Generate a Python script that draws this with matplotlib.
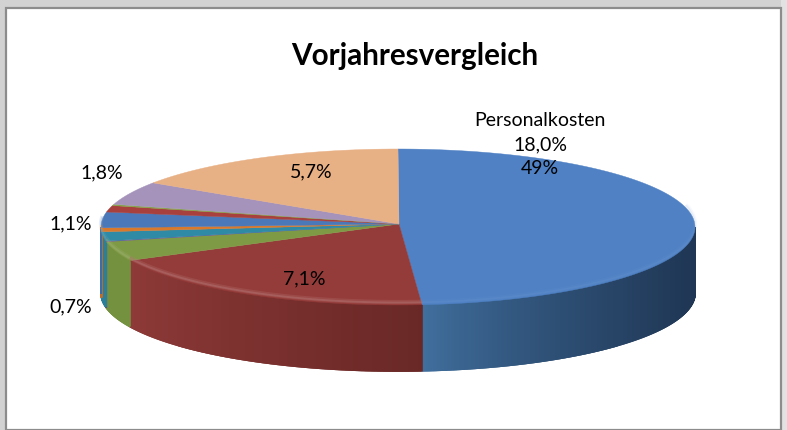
import numpy as np
import matplotlib
matplotlib.use("Agg")
import matplotlib.pyplot as plt
from matplotlib.colors import to_rgb

title = "Vorjahresvergleich"
# Anteile, im Uhrzeigersinn ab 12 Uhr
values = [18.0, 7.1, 1.5, 0.05, 0.7, 0.3, 1.2, 0.5, 0.1, 1.8, 5.7]
colors = ["#4f81c4", "#943c3a", "#7f9a45", "#6f5a94", "#2f8aa6", "#d9792c",
          "#4a78b8", "#a8403d", "#86a34a", "#a593bb", "#e8b085"]
side_left = ["#41709f", "#8e3a38", "#74913f", "#5d4a80", "#2c7f99", "#c46c25",
             "#3f6ca3", "#8c3836", "#74913f", "#8c7ba3", "#c99670"]
side_right = ["#1f3654", "#692826", "#74913f", "#5d4a80", "#2c7f99", "#c46c25",
              "#3f6ca3", "#8c3836", "#74913f", "#8c7ba3", "#c99670"]
labels = ["Personalkosten\n18,0%\n49%", "7,1%", "0,7%", "1,1%", "1,8%", "5,7%"]
label_x = [540, 304, 71, 71, 102, 311]
label_y = [145, 279, 307, 224, 173, 172]

cx, cy, rx, ry, depth = 398, 227, 297, 78, 66
apex_x, apex_y = 399, 224

fig = plt.figure(figsize=(7.87, 4.30), dpi=100, facecolor="#d2d2d2")
ax = fig.add_axes([0, 0, 1, 1])
ax.set_xlim(0, 787)
ax.set_ylim(430, 0)
ax.axis("off")

# Rahmen
ax.fill([781, 787, 787, 781], [0, 0, 430, 430], color="#e2e2e2", lw=0)
ax.fill([6, 781, 781, 6], [8, 8, 430, 430], color="white", ec="#8c8c8c", lw=1.6)

vals = np.array(values)
edges = np.cumsum(np.r_[0, vals]) / vals.sum() * 2 * np.pi


def rim(a):
    # Winkel a ab 12 Uhr, im Uhrzeigersinn
    return cx + rx * np.sin(a), cy - ry * np.cos(a)


# Seitenflaechen, nur die vordere Haelfte
for i in range(len(vals)):
    a0 = max(edges[i], np.pi / 2)
    a1 = min(edges[i + 1], 3 * np.pi / 2)
    if a1 <= a0:
        continue
    n = max(2, int((a1 - a0) / 0.004))
    aa = np.linspace(a0, a1, n)
    xs = np.array(rim(aa)[0])
    lo, hi = np.array(to_rgb(side_left[i])), np.array(to_rgb(side_right[i]))
    xa, xb = xs.min(), xs.max()
    for k in range(n - 1):
        x, y = rim(aa[k:k + 2])
        f = ((x.mean() - xa) / max(xb - xa, 1)) ** 0.8
        c = lo + (hi - lo) * f
        ax.fill([x[0], x[1], x[1], x[0]], [y[0], y[1], y[1] + depth, y[0] + depth],
                color=c, lw=1.2, zorder=2)

# Deckflaeche
for i in range(len(vals)):
    aa = np.linspace(edges[i], edges[i + 1], max(2, int((edges[i + 1] - edges[i]) / 0.01)))
    x, y = rim(aa)
    ax.fill(np.r_[apex_x, x], np.r_[apex_y, y], color=colors[i], ec=colors[i], lw=0.3, zorder=3)

# heller Rand vorne, links kraeftiger als rechts
for i in range(len(vals)):
    a0 = max(edges[i], np.pi / 2 - 0.25)
    a1 = min(edges[i + 1], 3 * np.pi / 2 + 0.1)
    if a1 <= a0:
        continue
    aa = np.linspace(a0, a1, 120)
    x, y = rim(aa)
    base = np.array(to_rgb(colors[i]))
    light = base + (1 - base) * 0.3
    strength = 0.45 if i == 1 else (0.12 if i == 0 else 0.3)
    ax.plot(x, y - 3, color=light, lw=3, alpha=strength * 0.6, zorder=4, solid_capstyle="butt")
    ax.plot(x, y - 2.5, color=light, lw=1.3, alpha=strength, zorder=4, solid_capstyle="butt")

ax.text(415, 56, title, fontsize=21.3, fontweight="bold", family="Lato",
        ha="center", va="center", color="black", zorder=6)
for s, x, y in zip(labels, label_x, label_y):
    ax.text(x, y, s, fontsize=14, family="Lato", ha="center", va="center",
            color="black", linespacing=1.5, zorder=6)

fig.savefig("out.png", dpi=100, facecolor=fig.get_facecolor())
